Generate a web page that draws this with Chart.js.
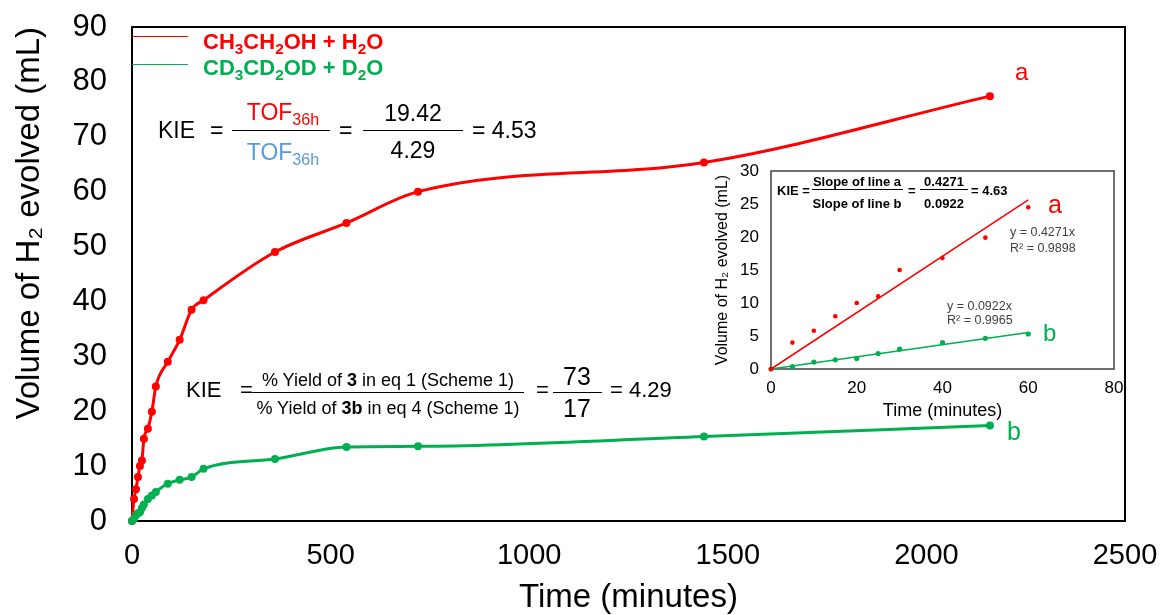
<!DOCTYPE html>
<html>
<head>
<meta charset="utf-8">
<script src="https://cdn.jsdelivr.net/npm/chart.js@4.4.0/dist/chart.umd.min.js"></script>
<style>
  body { margin: 0; background: #fff; }
  #wrap { position: relative; width: 1163px; height: 615px; overflow: hidden; font-family: "Liberation Sans", Arial, sans-serif; }
  canvas { position: absolute; }
  #main { left: 0; top: 0; }
  #inset { left: 700px; top: 150px; }
  .t { position: absolute; white-space: nowrap; line-height: 1; }
  .t sub { font-size: 0.7em; vertical-align: -0.3em; line-height: 0; }
  .t.c { transform: translateX(-50%); }
  .rule { position: absolute; height: 0; }
</style>
</head>
<body>
<div id="wrap">
  <canvas id="main" width="1163" height="615"></canvas>
  <canvas id="inset" width="430" height="280"></canvas>
</div>
<script>
// time points (minutes) and H2 volumes (mL)
const timeMin = [0, 5, 10, 15, 20, 25, 30, 40, 50, 60, 90, 120, 150, 180, 360, 540, 720, 1440, 2160];
const h2oVol  = [0, 4.0, 5.8, 8.0, 10.0, 11.0, 15.0, 16.8, 19.9, 24.5, 29.0, 33.0, 38.5, 40.2, 49.0, 54.3, 60.0, 65.3, 77.4];
const d2oVol  = [0, 0.35, 1.05, 1.4, 1.6, 2.35, 3.0, 4.0, 4.65, 5.3, 6.8, 7.5, 8.0, 9.5, 11.3, 13.5, 13.6, 15.4, 17.4];

// inset: first hour + linear fits
const insetCount = 10;
const trendMin = [0, 60];
const trendA = [0, 25.63];
const trendB = [0, 5.53];

const RED = '#ff0000', GREEN = '#00b050', BLUE = '#5b9bd5';
const FONT = '"Liberation Sans", Arial, sans-serif';

const pts = (xs, ys) => xs.map((x, i) => ({ x, y: ys[i] }));
const plain = v => String(v);

const frame = {
  id: 'frame',
  beforeDatasetsDraw(chart, args, opts) {
    const { ctx, chartArea: a } = chart;
    ctx.save();
    ctx.strokeStyle = opts.color;
    ctx.lineWidth = opts.width;
    ctx.strokeRect(a.left, a.top, a.right - a.left, a.bottom - a.top);
    ctx.restore();
  }
};

Chart.defaults.font.family = FONT;
Chart.defaults.color = '#000';

// hidden grid, but tick length still reserves the gap between labels and frame
const noGrid = len => ({ display: false, drawTicks: true, tickLength: len });

new Chart(document.getElementById('main'), {
  type: 'scatter',
  data: {
    datasets: [
      { data: pts(timeMin, h2oVol), order: 1, showLine: true, borderColor: RED, backgroundColor: RED,
        borderWidth: 3, pointRadius: 4, pointBorderWidth: 0, cubicInterpolationMode: 'monotone', clip: false },
      { data: pts(timeMin, d2oVol), order: 0, showLine: true, borderColor: GREEN, backgroundColor: GREEN,
        borderWidth: 3, pointRadius: 4, pointBorderWidth: 0, cubicInterpolationMode: 'monotone', clip: false },
    ],
  },
  options: {
    responsive: false,
    animation: false,
    events: [],
    devicePixelRatio: 1,
    layout: { padding: { left: 0, top: 27, right: 38, bottom: 0 } },
    plugins: { legend: { display: false }, tooltip: { enabled: false }, frame: { color: '#000', width: 2 } },
    scales: {
      x: {
        type: 'linear', min: 0, max: 2500,
        grid: noGrid(15), border: { display: false },
        ticks: { stepSize: 500, font: { size: 29 }, padding: 3, callback: plain },
        title: { display: true, text: 'Time (minutes)', font: { size: 33, lineHeight: 1 }, padding: { top: 0, bottom: 1 } },
        afterFit: s => { s.height = 94; },
      },
      y: {
        type: 'linear', min: 0, max: 90,
        grid: noGrid(22), border: { display: false },
        ticks: { stepSize: 10, font: { size: 31 }, padding: 3, callback: plain },
        title: { display: true, text: 'Volume of H\u2082 evolved (mL)', align: 'end', font: { size: 33, lineHeight: 1 }, padding: { top: 13, bottom: 0 } },
        afterFit: s => { s.width = 132; },
      },
    },
  },
  plugins: [frame],
});

new Chart(document.getElementById('inset'), {
  type: 'scatter',
  data: {
    datasets: [
      { data: pts(timeMin.slice(0, insetCount), h2oVol.slice(0, insetCount)), backgroundColor: RED,
        pointRadius: 2.3, pointBorderWidth: 0, clip: false },
      { data: pts(trendMin, trendA), showLine: true, borderColor: RED, borderWidth: 1.5, pointRadius: 0, clip: false },
      { data: pts(timeMin.slice(0, insetCount), d2oVol.slice(0, insetCount)), backgroundColor: GREEN,
        pointRadius: 2.6, pointBorderWidth: 0, clip: false },
      { data: pts(trendMin, trendB), showLine: true, borderColor: GREEN, borderWidth: 1.5, pointRadius: 0, clip: false },
    ],
  },
  options: {
    responsive: false,
    animation: false,
    events: [],
    devicePixelRatio: 1,
    layout: { padding: { left: 0, top: 21, right: 16, bottom: 0 } },
    plugins: { legend: { display: false }, tooltip: { enabled: false }, frame: { color: '#404040', width: 1.5 } },
    scales: {
      x: {
        type: 'linear', min: 0, max: 80,
        grid: noGrid(6), border: { display: false },
        ticks: { stepSize: 20, font: { size: 17 }, padding: 3 },
        title: { display: true, text: 'Time (minutes)', font: { size: 18, lineHeight: 1.2 }, padding: { top: 0, bottom: 8 } },
        afterFit: s => { s.height = 61; },
      },
      y: {
        type: 'linear', min: 0, max: 30,
        grid: noGrid(9), border: { display: false },
        ticks: { stepSize: 5, font: { size: 17 }, padding: 3 },
        title: { display: true, text: 'Volume of H\u2082 evolved (mL)', font: { size: 16, lineHeight: 1.2 }, padding: { top: 13, bottom: 0 } },
        afterFit: s => { s.width = 71; },
      },
    },
  },
  plugins: [frame],
});

// text overlays (formulas, legend, curve letters)
const wrap = document.getElementById('wrap');
function text(html, x, baseline, size, opts = {}) {
  const d = document.createElement('div');
  d.className = 't' + (opts.center ? ' c' : '');
  d.innerHTML = html;
  d.style.left = x + 'px';
  d.style.top = (baseline - 0.8465 * size) + 'px';
  d.style.fontSize = size + 'px';
  d.style.color = opts.color || '#000';
  if (opts.bold) d.style.fontWeight = 'bold';
  wrap.appendChild(d);
}
function rule(x1, x2, y, color, w) {
  const d = document.createElement('div');
  d.className = 'rule';
  d.style.left = x1 + 'px';
  d.style.width = (x2 - x1) + 'px';
  d.style.top = (y - w / 2) + 'px';
  d.style.borderTop = w + 'px solid ' + color;
  wrap.appendChild(d);
}

// legend
rule(132, 188, 36.5, RED, 1.5);
rule(132, 188, 64.5, GREEN, 1.5);
text('CH<sub>3</sub>CH<sub>2</sub>OH + H<sub>2</sub>O', 203, 50, 22, { bold: true, color: RED });
text('CD<sub>3</sub>CD<sub>2</sub>OD + D<sub>2</sub>O', 203, 76, 22, { bold: true, color: GREEN });

// KIE from TOF
text('KIE', 158, 138, 23);
text('=', 210, 138, 23);
rule(232, 330, 130, '#000', 1);
text('TOF<sub>36h</sub>', 283, 120, 23, { center: true, color: RED });
text('TOF<sub>36h</sub>', 283, 160, 23, { center: true, color: BLUE });
text('=', 339, 138, 23);
rule(363, 463, 130, '#000', 1);
text('19.42', 413, 121, 23, { center: true });
text('4.29', 413, 158, 23, { center: true });
text('= 4.53', 472, 138, 23);

// KIE from yields
text('KIE', 186, 398, 22);
text('=', 240, 398, 22);
rule(252, 524, 392, '#000', 1);
text('% Yield of <b>3</b> in eq 1 (Scheme 1)', 388, 386, 18, { center: true });
text('% Yield of <b>3b</b> in eq 4 (Scheme 1)', 388, 414, 18, { center: true });
text('=', 536, 398, 22);
rule(553, 602, 392, '#000', 1);
text('73', 577, 385, 25, { center: true });
text('17', 577, 417, 25, { center: true });
text('= 4.29', 610, 398, 22);

// curve letters, main
text('a', 1015, 80, 24, { color: RED });
text('b', 1007, 440, 25, { color: GREEN });

// inset annotations
text('KIE =', 777, 194.6, 13, { bold: true });
rule(812, 903, 189.3, '#000', 1);
text('Slope of line a', 857, 186, 13, { bold: true, center: true });
text('Slope of line b', 857, 207.6, 13, { bold: true, center: true });
text('=', 908, 194.6, 13, { bold: true });
rule(920, 968, 189.3, '#000', 1);
text('0.4271', 944, 186, 13, { bold: true, center: true });
text('0.0922', 944, 207.6, 13, { bold: true, center: true });
text('= 4.63', 971, 194.6, 13, { bold: true });
text('y = 0.4271x', 1010, 237, 12.5, { color: '#404040' });
text('R\u00b2 = 0.9898', 1010, 252.6, 12.5, { color: '#404040' });
text('y = 0.0922x', 947, 310.5, 12.5, { color: '#404040' });
text('R\u00b2 = 0.9965', 947, 324.5, 12.5, { color: '#404040' });
text('a', 1048, 212.7, 25, { color: RED });
text('b', 1043, 341.7, 24, { color: GREEN });
</script>
</body>
</html>
